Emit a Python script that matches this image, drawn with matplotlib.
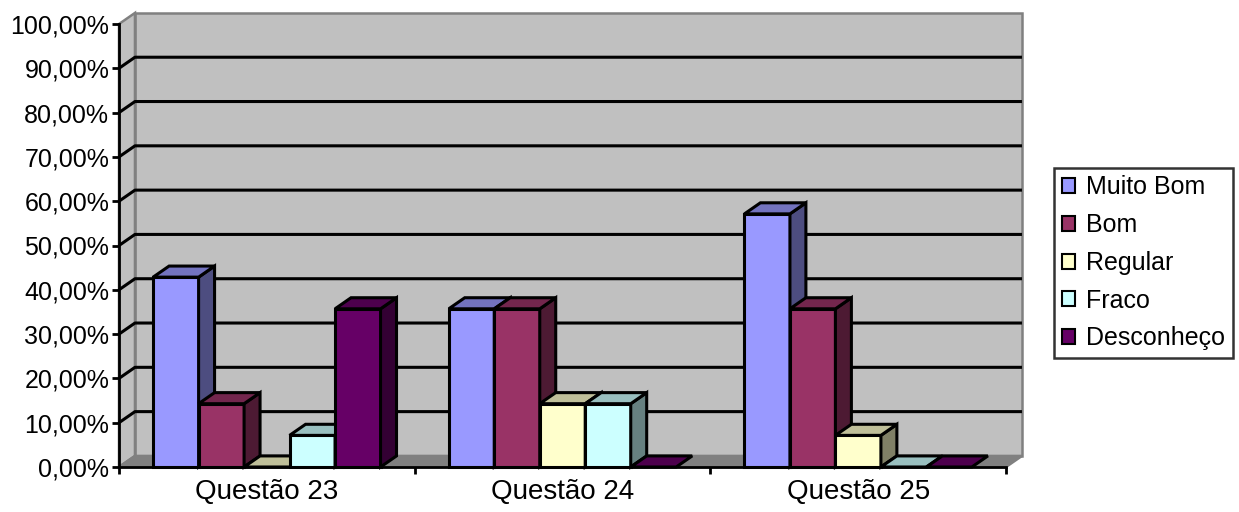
import numpy as np
import matplotlib
matplotlib.use('Agg')
import matplotlib.pyplot as plt
from matplotlib.patches import Polygon, Patch
from matplotlib.colors import to_rgb

plt.rcParams['font.family'] = ['Liberation Sans', 'DejaVu Sans']

# data (share of answers, 14 respondents)
questions = ['Questão 23', 'Questão 24', 'Questão 25']
series = ['Muito Bom', 'Bom', 'Regular', 'Fraco', 'Desconheço']
muito_bom = [42.86, 35.71, 57.14]
bom = [14.29, 35.71, 35.71]
regular = [0.0, 14.29, 7.14]
fraco = [7.14, 14.29, 0.0]
desconheco = [35.71, 0.0, 0.0]
values = [muito_bom, bom, regular, fraco, desconheco]
colors = ['#9999FF', '#993366', '#FFFFCC', '#CCFFFF', '#660066']
y_ticks = np.arange(0, 101, 10)

# 3d depth offset in data units
DX = 0.054
DY = 2.5
GAP = 1.5  # excel gap width (150%)


def shade(c, f):
    r, g, b = to_rgb(c)
    return (r * f, g * f, b * f)


fig = plt.figure(figsize=(12.39, 5.12), dpi=100)
ax = fig.add_axes([119 / 1239, 45 / 512, 887 / 1239, 443 / 512])
ax.set_xlim(0, len(questions))
ax.set_ylim(0, 100)
ax.patch.set_visible(False)

n_cat = len(questions)
# walls and floor
wall_kw = dict(edgecolor='#808080', lw=1.8, clip_on=False, zorder=0.5)
ax.add_patch(Polygon([(DX, DY), (n_cat + DX, DY), (n_cat + DX, 100 + DY), (DX, 100 + DY)],
                     facecolor='#C0C0C0', **wall_kw))
ax.add_patch(Polygon([(0, 0), (DX, DY), (DX, 100 + DY), (0, 100)],
                     facecolor='#C0C0C0', **wall_kw))
ax.add_patch(Polygon([(0, 0), (n_cat, 0), (n_cat + DX, DY), (DX, DY)],
                     facecolor='#808080', **wall_kw))

# gridlines on left and back wall
for v in y_ticks[1:-1]:
    ax.plot([0, DX, n_cat + DX], [v, v + DY, v + DY], color='black', lw=2.2,
            clip_on=False, zorder=1, solid_capstyle='butt')

# bars
w = 1 / (len(series) + GAP)
x = np.arange(n_cat)
bar_kw = dict(edgecolor='black', lw=2.2, clip_on=False, joinstyle='miter')
z = 2
for j in range(n_cat):
    for i, (vals, c) in enumerate(zip(values, colors)):
        x0 = x[j] + GAP * w / 2 + i * w
        x1 = x0 + w
        h = vals[j]
        if h > 0:
            ax.add_patch(Polygon([(x0, 0), (x1, 0), (x1, h), (x0, h)],
                                 facecolor=c, zorder=z, **bar_kw))
            ax.add_patch(Polygon([(x1, 0), (x1 + DX, DY), (x1 + DX, h + DY), (x1, h)],
                                 facecolor=shade(c, 0.5), zorder=z, **bar_kw))
        ax.add_patch(Polygon([(x0, h), (x1, h), (x1 + DX, h + DY), (x0 + DX, h + DY)],
                             facecolor=shade(c, 0.75), zorder=z, **bar_kw))
        z += 0.01

# axes
for s in ['top', 'right']:
    ax.spines[s].set_visible(False)
for s in ['left', 'bottom']:
    ax.spines[s].set_linewidth(2)
    ax.spines[s].set_zorder(5)

ax.set_yticks(y_ticks)
ax.set_yticklabels([f'{v:.2f}%'.replace('.', ',') for v in y_ticks])
ax.tick_params(axis='y', direction='out', length=5, width=2, pad=2, labelsize=18)
ax.set_xticks(np.arange(n_cat + 1))
ax.set_xticklabels([])
ax.tick_params(axis='x', which='major', direction='out', length=5, width=2)
ax.set_xticks(x + 0.5, minor=True)
ax.set_xticklabels(questions, minor=True)
ax.tick_params(axis='x', which='minor', length=0, pad=9, labelsize=20)

handles = [Patch(facecolor=c, edgecolor='black', lw=1.5) for c in colors]
leg = fig.legend(handles, series, loc='center left', bbox_to_anchor=(1054 / 1239, 249 / 512),
                 fontsize=18, frameon=True, fancybox=False, edgecolor='black',
                 handlelength=0.55, handleheight=0.55, handletextpad=0.45,
                 labelspacing=0.55, borderpad=0.3, borderaxespad=0)
leg.get_frame().set_linewidth(1.8)

fig.savefig('out.png', dpi=100)
